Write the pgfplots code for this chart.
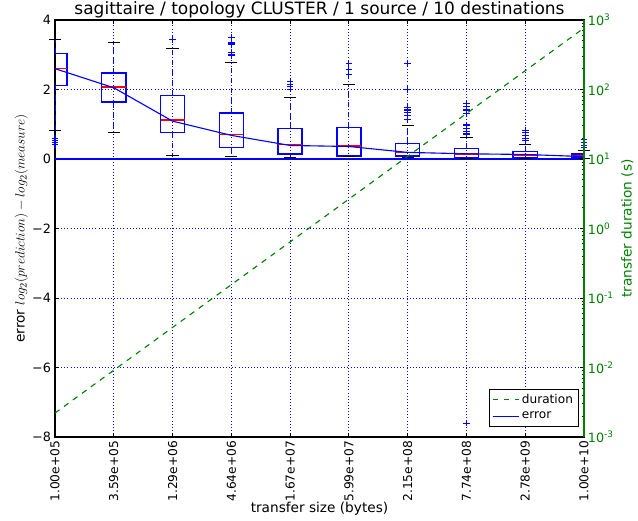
\documentclass[border=0pt]{standalone}
\usepackage{fontspec}
\setmainfont{DejaVu Sans}
\usepackage{pgfplots}
\pgfplotsset{compat=1.18}
\usepgfplotslibrary{statistics}

\definecolor{mplgreen}{RGB}{0,128,0}

% positions are log10 of the transfer size: 5, 5+5/9, ..., 10
\pgfplotsset{
  errbox/.style={
    blue, line width=1.2pt, mark=+, mark size=3pt,
    mark options={blue, solid, line width=1pt},
    boxplot/draw direction=y,
    boxplot/box extend=0.227,
    boxplot/whisker extend=0,
    boxplot/every box/.style={draw=blue, line width=1.3pt},
    boxplot/every median/.style={red, line width=1.3pt},
    boxplot/every whisker/.style={blue, line width=1pt, dash pattern=on 5pt off 4pt},
  },
}

\begin{document}
\begin{tikzpicture}
\path[use as bounding box] (-49.5pt,-74.7pt) rectangle (524.7pt,393.3pt);
\begin{axis}[
    scale only axis,
    width=476.1pt, height=375.3pt,
    xmin=5, xmax=10,
    ymin=-8, ymax=4,
    xtick={5,5.5556,6.1111,6.6667,7.2222,7.7778,8.3333,8.8889,9.4444,10},
    xticklabels={1.00e+05,3.59e+05,1.29e+06,4.64e+06,1.67e+07,5.99e+07,2.15e+08,7.74e+08,2.78e+09,1.00e+10},
    ytick={-8,-6,-4,-2,0,2,4},
    yticklabels={−8,−6,−4,−2,0,2,4},
    xticklabel style={rotate=90, anchor=east, font=\fontsize{11}{13}\selectfont},
    yticklabel style={font=\fontsize{11.5}{13}\selectfont},
    ytick pos=left,
    tick align=inside,
    major tick length=4pt,
    tick style={black, line width=0.8pt},
    axis line style={line width=1pt},
    grid=major,
    major grid style={blue, line width=0.8pt, dotted},
    xlabel={transfer size (bytes)},
    ylabel={error $log_2(prediction)-log_2(measure)$},
    label style={font=\fontsize{12.3}{14}\selectfont},
    xlabel style={yshift=6pt},
    ylabel style={yshift=-3pt},
    title={sagittaire / topology CLUSTER / 1 source / 10 destinations},
    title style={font=\fontsize{15.3}{18}\selectfont, yshift=-8pt},
]
% zero line
\addplot[blue, line width=1.3pt] coordinates {(5,0) (10,0)};

\addplot[errbox, boxplot prepared={draw position=5, lower whisker=0.81, lower quartile=2.12, median=2.60, upper quartile=3.04, upper whisker=3.44}]
  table[row sep=\\, y index=0] {y\\ 0.42\\ 0.48\\ 0.54\\ 0.60\\};
\addplot[errbox, boxplot prepared={draw position=5.5556, lower whisker=0.76, lower quartile=1.64, median=2.07, upper quartile=2.47, upper whisker=3.35}]
  coordinates {};
\addplot[errbox, boxplot prepared={draw position=6.1111, lower whisker=0.09, lower quartile=0.76, median=1.12, upper quartile=1.83, upper whisker=3.19}]
  table[row sep=\\, y index=0] {y\\ 3.44\\};
\addplot[errbox, boxplot prepared={draw position=6.6667, lower whisker=0.08, lower quartile=0.33, median=0.70, upper quartile=1.32, upper whisker=2.78}]
  table[row sep=\\, y index=0] {y\\ 2.97\\ 3.01\\ 3.06\\ 3.31\\ 3.35\\ 3.50\\};
\addplot[errbox, boxplot prepared={draw position=7.2222, lower whisker=0.05, lower quartile=0.14, median=0.41, upper quartile=0.87, upper whisker=1.76}]
  table[row sep=\\, y index=0] {y\\ 2.01\\ 2.08\\ 2.15\\ 2.22\\};
\addplot[errbox, boxplot prepared={draw position=7.7778, lower whisker=0.06, lower quartile=0.08, median=0.37, upper quartile=0.91, upper whisker=2.14}]
  table[row sep=\\, y index=0] {y\\ 2.42\\ 2.58\\ 2.75\\};
\addplot[errbox, boxplot prepared={draw position=8.3333, lower whisker=0.05, lower quartile=0.08, median=0.18, upper quartile=0.44, upper whisker=0.96}]
  table[row sep=\\, y index=0] {y\\ 1.14\\ 1.24\\ 1.33\\ 1.41\\ 1.49\\ 2.00\\ 2.75\\};
\addplot[errbox, boxplot prepared={draw position=8.8889, lower whisker=0.02, lower quartile=0.04, median=0.14, upper quartile=0.31, upper whisker=0.61}]
  table[row sep=\\, y index=0] {y\\ 0.72\\ 0.79\\ 0.88\\ 0.98\\ 1.31\\ 1.41\\ 1.50\\ 1.60\\ -7.6\\};
\addplot[errbox, boxplot prepared={draw position=9.4444, lower whisker=0.02, lower quartile=0.04, median=0.12, upper quartile=0.22, upper whisker=0.43}]
  table[row sep=\\, y index=0] {y\\ 0.53\\ 0.60\\ 0.68\\ 0.76\\ 0.83\\};
\addplot[errbox, boxplot prepared={draw position=10, lower whisker=0.01, lower quartile=0.04, median=0.09, upper quartile=0.14, upper whisker=0.24}]
  table[row sep=\\, y index=0] {y\\ 0.32\\ 0.40\\ 0.48\\ 0.56\\};

% whisker caps
\addplot[only marks, mark=-, mark size=5.5pt, black, mark options={line width=1pt}] coordinates {
  (5,3.44) (5,0.81)
  (5.5556,3.35) (5.5556,0.76)
  (6.1111,3.19) (6.1111,0.09)
  (6.6667,2.78) (6.6667,0.08)
  (7.2222,1.76) (7.2222,0.05)
  (7.7778,2.14) (7.7778,0.06)
  (8.3333,0.96) (8.3333,0.05)
  (8.8889,0.61) (8.8889,0.02)
  (9.4444,0.43) (9.4444,0.02)
  (10,0.24) (10,0.01)
};

% error curve
\addplot[blue, line width=1pt] coordinates {
  (5,2.60) (5.5556,2.05) (6.1111,1.09) (6.6667,0.68) (7.2222,0.39)
  (7.7778,0.36) (8.3333,0.19) (8.8889,0.15) (9.4444,0.13) (10,0.07)
};
\end{axis}

\begin{axis}[
    scale only axis,
    width=476.1pt, height=375.3pt,
    xmin=5, xmax=10,
    ymode=log, ymin=1e-3, ymax=1e3,
    axis x line=none,
    axis y line*=right,
    y axis line style={mplgreen, line width=1pt, -},
    ytick={1e-3,1e-2,1e-1,1,10,100,1000},
    yticklabels={10\textsuperscript{-3},10\textsuperscript{-2},10\textsuperscript{-1},10\textsuperscript{0},10\textsuperscript{1},10\textsuperscript{2},10\textsuperscript{3}},
    minor ytick={2e-3,3e-3,4e-3,5e-3,6e-3,7e-3,8e-3,9e-3,
                 2e-2,3e-2,4e-2,5e-2,6e-2,7e-2,8e-2,9e-2,
                 0.2,0.3,0.4,0.5,0.6,0.7,0.8,0.9,
                 2,3,4,5,6,7,8,9,
                 20,30,40,50,60,70,80,90,
                 200,300,400,500,600,700,800,900},
    tick align=inside,
    major tick length=4pt,
    minor tick length=2pt,
    ytick style={black, line width=0.8pt},
    yticklabel style={mplgreen, font=\fontsize{11.5}{13}\selectfont},
    ylabel={transfer duration (s)},
    ylabel style={mplgreen, font=\fontsize{12.3}{14}\selectfont},
    legend style={at={(rel axis cs:0.99,0.026)}, anchor=south east,
      font=\fontsize{10.9}{13}\selectfont,
      row sep=2pt, inner sep=3pt},
    legend cell align=left,
    legend image post style={xscale=1.4},
]
\addplot[mplgreen, line width=1pt, dash pattern=on 5pt off 5pt] coordinates {
  (5,0.002213) (5.5556,0.00914) (6.1111,0.0377) (6.6667,0.1556) (7.2222,0.641)
  (7.7778,2.65) (8.3333,10.93) (8.8889,45.1) (9.4444,186.2) (10,767)
};
\addlegendentry{duration}
\addlegendimage{blue, line width=1pt}
\addlegendentry{error}
\end{axis}
\end{tikzpicture}
\end{document}
